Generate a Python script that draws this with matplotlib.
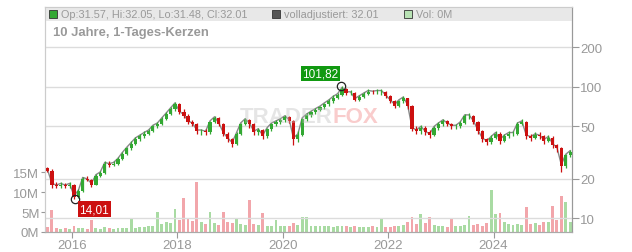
import numpy as np
import pandas as pd
import matplotlib
matplotlib.use('Agg')
import matplotlib.pyplot as plt
import matplotlib.dates as mdates
import matplotlib.transforms as mtransforms
from matplotlib.patches import Rectangle

plt.rcParams['font.family'] = ['Liberation Sans', 'DejaVu Sans']

# monthly candles (Jul 2015 .. Jun 2025)
closes = [23, 18, 17.5, 18, 17.5, 18, 14.5, 16, 20, 19.5, 18, 21,
          22, 26, 25.5, 26, 28, 31, 34, 37, 40, 42, 44, 46,
          50, 52, 57, 62, 68, 74, 64, 60, 54, 52, 46, 46,
          45, 54, 58, 52, 44, 40, 37, 44, 52, 56, 52, 45,
          47, 42, 48, 52, 54, 56, 59, 55, 40, 43, 57, 61,
          64, 67, 70, 74, 78, 83, 87, 97, 90, 90, 80, 84,
          88, 92, 91, 92, 92, 85, 78, 72, 78, 82, 72, 48,
          46, 49, 45, 43, 49, 52, 55, 52, 50, 50, 53, 60,
          60, 54, 46, 40, 38, 41, 44, 39, 42, 44, 44, 52,
          54, 42, 41, 43, 42, 39, 41, 36, 34, 25, 30, 32]
highs = [24.5, 23.5, 18.8, 18.8, 18.5, 18.7, 18.2, 16.5, 20.5, 21, 20, 21.5,
         23, 27, 27, 27, 29, 32, 35, 38.5, 41.5, 43.5, 46, 47.5,
         51.5, 54, 58.5, 64, 70, 77, 75, 68, 62, 56, 53, 48,
         47.5, 55, 60, 59, 53, 45, 41, 45, 53, 58, 57, 53,
         49, 48, 49, 53.5, 56, 58, 61, 60, 56, 46, 58, 63,
         66, 69, 72, 76, 81, 86, 90, 101.8, 98, 94, 91, 87,
         91, 96, 95, 96, 96, 93, 86, 79, 80, 85, 83, 73,
         50, 51, 50, 47, 50, 54, 57, 56, 53, 52, 55, 62,
         63, 61, 55, 47, 41, 43, 46, 45, 44, 46, 46, 54,
         57, 55, 44, 45, 45, 43, 43, 42, 37, 35, 31, 33]
lows = [22.5, 17, 16.8, 17, 16.8, 17, 14.0, 14.2, 15.8, 19, 17.2, 17.8,
        20.5, 21.5, 24.5, 25, 25.5, 27.5, 30.5, 33, 36, 39, 41, 43,
        45, 48.5, 51, 56, 61, 66, 62, 58, 52, 50, 44, 43,
        43, 44, 53, 50, 42, 38, 35, 36, 43, 51, 49, 43,
        43, 40, 41, 46, 50, 52, 54, 53, 36, 38, 42, 55,
        59, 62, 65, 68, 72, 76, 81, 85, 86, 86, 78, 78,
        82, 86, 88, 88, 87, 82, 75, 69, 70, 76, 68, 46,
        44, 44, 43, 41, 42, 47, 50, 50, 48, 47.5, 49, 52,
        57, 52, 44, 38, 36, 37, 40, 37, 38, 41, 42, 43,
        51, 40, 39, 40, 40, 37, 38, 34, 32, 22.5, 24, 29]
first_open = 24

# monthly volume in millions
volume = [1.2, 5.5, 1.0, 0.8, 0.9, 0.8, 1.5, 1.0, 0.9, 0.8, 3.0, 0.9,
          0.8, 1.2, 0.9, 0.8, 0.9, 1.0, 1.1, 3.2, 1.0, 1.2, 1.3, 1.5,
          1.6, 5.0, 2.0, 2.5, 2.2, 5.7, 3.0, 8.5, 3.5, 2.8, 12.5, 2.5,
          2.0, 5.0, 2.2, 1.8, 5.0, 2.5, 2.2, 3.5, 2.0, 1.8, 8.0, 2.0,
          1.8, 4.7, 1.6, 1.5, 3.0, 1.5, 1.4, 1.6, 2.2, 1.8, 3.7, 3.7,
          1.5, 1.4, 1.6, 1.5, 1.4, 1.3, 1.6, 1.5, 1.4, 1.3, 1.5, 1.2,
          1.3, 1.2, 1.4, 1.3, 3.5, 1.2, 1.3, 1.4, 1.5, 1.8, 2.5, 3.7,
          2.0, 4.5, 2.2, 3.8, 1.8, 1.5, 1.4, 1.3, 3.5, 1.5, 1.6, 1.8,
          4.0, 1.8, 2.0, 1.6, 2.2, 10.5, 4.5, 4.7, 2.5, 2.0, 1.8, 2.0,
          1.8, 6.2, 2.0, 2.2, 1.8, 2.4, 2.5, 6.5, 3.0, 9.0, 7.5, 2.5]

min_date, min_val = '2016-01-20', 14.01
max_date, max_val = '2021-02-10', 101.82

price_ticks = [10, 20, 50, 100, 200]
vol_ticks = [0, 5, 10, 15]
year_ticks = [2016, 2018, 2020, 2022, 2024]

dates = pd.date_range('2015-07-01', periods=len(closes), freq='MS') + pd.Timedelta(days=14)
closes = np.array(closes, dtype=float)
opens = np.concatenate([[first_open], closes[:-1]])
up = closes >= opens

GREEN = '#33a833'
RED = '#cc1010'
GRID = '#dcdcdc'
TXT = '#999999'

fig = plt.figure(figsize=(6.32, 2.53), dpi=100)
ax_vol = fig.add_axes([45 / 632, 1 - 233 / 253, 527 / 632, 225 / 253])
ax = ax_vol.twinx()

# volume
vcol = np.where(up, '#a9dba3', '#f2a6ab')
ax_vol.bar(dates, volume, width=20, color=vcol, zorder=2)
ax_vol.set_ylim(0, 225 / 20 * 5)
ax_vol.set_yticks(vol_ticks)
ax_vol.set_yticklabels([f'{v}M' for v in vol_ticks])
ax_vol.tick_params(axis='y', colors=TXT, labelsize=9.5, length=3, pad=1)

# price
ax.set_yscale('log')
ax.set_ylim(7.82, 407)
off = mtransforms.ScaledTranslation(0, 0.8 / 72, fig.dpi_scale_trans)
ax.plot(dates, closes, color='#888888', lw=1.0, transform=ax.transData + off, zorder=3)
ccol = np.where(up, GREEN, RED)
ax.vlines(dates, lows, highs, colors=ccol, lw=0.9, zorder=4)
ax.bar(dates, closes - opens, bottom=opens, width=22, color=ccol, zorder=4)
ax.set_yticks(price_ticks)
ax.set_yticklabels([str(t) for t in price_ticks])
ax.yaxis.set_minor_locator(plt.NullLocator())
ax.tick_params(axis='y', colors=TXT, labelsize=9.5, length=5, pad=1)

ax.set_xlim(pd.Timestamp('2015-06-28'), pd.Timestamp('2025-06-28'))
ax.xaxis.set_major_locator(mdates.YearLocator(2))
ax_vol.tick_params(axis='x', colors=TXT, labelsize=9.5, length=4, pad=1)
ax_vol.set_xticks([pd.Timestamp(f'{y}-01-01') for y in year_ticks])
ax_vol.set_xticklabels([str(y) for y in year_ticks])
ax.tick_params(axis='x', length=0, labelbottom=False)

ax.grid(True, color=GRID, lw=1, zorder=1)
ax.set_axisbelow(True)
ax_vol.grid(False)

for a in (ax, ax_vol):
    a.spines['top'].set_color('#cccccc')
    a.spines['left'].set_color('#cccccc')
    a.spines['bottom'].set_color('#aaaaaa')
    a.spines['right'].set_color('#999999')

# header band
ax.add_patch(Rectangle((0, 1 - 14 / 225), 1, 14 / 225, transform=ax.transAxes,
                       facecolor='#e8e8e8', edgecolor='none', zorder=0.5))
hy = 1 - 7 / 225
ax.plot([8 / 527], [hy], marker='s', ms=5.5, mfc=GREEN, mec='#333333', mew=0.6,
        transform=ax.transAxes, clip_on=False, zorder=6)
ax.text(16 / 527, hy, 'Op:31.57, Hi:32.05, Lo:31.48, Cl:32.01', transform=ax.transAxes,
        fontsize=7.8, color=TXT, va='center', ha='left', zorder=6)
ax.plot([231 / 527], [hy], marker='s', ms=5.5, mfc='#555555', mec='#333333', mew=0.6,
        transform=ax.transAxes, clip_on=False, zorder=6)
ax.text(239 / 527, hy, 'volladjustiert: 32.01', transform=ax.transAxes,
        fontsize=7.8, color=TXT, va='center', ha='left', zorder=6)
ax.plot([363 / 527], [hy], marker='s', ms=5.5, mfc='#b8e2b4', mec='#333333', mew=0.6,
        transform=ax.transAxes, clip_on=False, zorder=6)
ax.text(371 / 527, hy, 'Vol: 0M', transform=ax.transAxes,
        fontsize=7.8, color=TXT, va='center', ha='left', zorder=6)

ax.text(8 / 527, 1 - 25 / 225, '10 Jahre, 1-Tages-Kerzen', transform=ax.transAxes,
        fontsize=9.4, fontweight='bold', color=TXT, va='center', ha='left', zorder=6)

# watermark
ax.text(0.545, 0.515, 'TRADER', transform=ax.transAxes, fontsize=16, fontweight='bold',
        color='#c0c0c0', alpha=0.4, ha='right', va='center', zorder=5)
ax.text(0.545, 0.515, 'FOX', transform=ax.transAxes, fontsize=16, fontweight='bold',
        color='#f08080', alpha=0.4, ha='left', va='center', zorder=5)

# min / max markers
for d, v, col, dx, dy in [(min_date, min_val, RED, 14, -7.5), (max_date, max_val, '#119911', -15, 9)]:
    ax.plot([pd.Timestamp(d)], [v], marker='o', ms=6, mfc='none', mec='#222222', mew=0.9, zorder=7)
    ax.annotate(f'{v:.2f}'.replace('.', ','), (pd.Timestamp(d), v), xytext=(dx, dy),
                textcoords='offset points', ha='center', va='center', fontsize=8.5,
                color='white', zorder=8,
                bbox=dict(boxstyle='square,pad=0.15', fc=col, ec='none'))

fig.savefig('out.png', dpi=100)
